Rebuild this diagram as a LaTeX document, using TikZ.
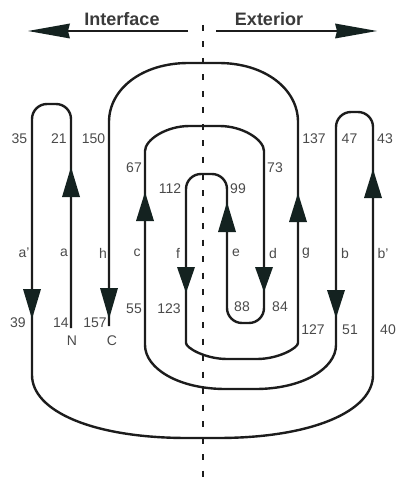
\documentclass[tikz,border=0pt]{standalone}
\usepackage{fontspec}
\setmainfont{Liberation Sans}
\begin{document}
\begin{tikzpicture}[x=1pt,y=-1pt,
  strand/.style={draw=linecol,line width=2.4pt,rounded corners=15pt},
  head/.style={fill=headcol},
  lbl/.style={text=lblcol,font=\fontsize{14}{14}\selectfont,inner sep=0pt},
  ttl/.style={text=ttlcol,font=\fontsize{18}{18}\selectfont\bfseries,inner sep=0pt},
  memb/.style={draw=linecol,line width=2.8pt,dash pattern=on 6pt off 10.5pt},
  bigarr/.style={draw=linecol,line width=2.1pt}]
\definecolor{linecol}{HTML}{1C1C1C}
\definecolor{headcol}{HTML}{142220}
\definecolor{lblcol}{HTML}{4A4A4A}
\definecolor{ttlcol}{HTML}{3A3A3A}
\useasboundingbox (0,0) rectangle (398,481);

% membrane
\coordinate (mtop) at (203,25);
\coordinate (mbot) at (203,479);
\draw[memb] (mtop) -- (mbot);

% direction arrows
\coordinate (ls) at (188,31);
\coordinate (le) at (60,31);
\coordinate (rs) at (216,31);
\coordinate (re) at (345,31);
\draw[bigarr] (ls) -- (le);
\draw[bigarr] (rs) -- (re);
\fill[head] (28,31) -- (70,23.5) -- (68,31) -- (70,38.5) -- cycle;
\fill[head] (377,31) -- (335,23.5) -- (337,31) -- (335,38.5) -- cycle;
\node[ttl] (interface) at (122,19) {Interface};
\node[ttl] (exterior) at (269,19) {Exterior};

% the chain
\coordinate (Nend) at (71,328);
\coordinate (Cend) at (109,326);
\draw[strand] (Nend) -- (71,104) -- (32,104) -- (32,360)
  .. controls (32,410.7) and (91.7,438) .. (202.5,438)
  .. controls (313.3,438) and (373,410.7) .. (373,360)
  -- (373,112) -- (336,112) -- (336,330)
  .. controls (336,368.4) and (302.6,389) .. (240.5,389)
  .. controls (178.4,389) and (145,368.4) .. (145,330)
  -- (145,166)
  .. controls (145,140) and (165.8,126) .. (204.5,126)
  .. controls (243.2,126) and (264,140) .. (264,166)
  -- (264,323) -- (227,323) -- (227,174) -- (186,174) -- (186,328)
  .. controls (186,348) and (205.6,359) .. (242,359)
  .. controls (278.4,359) and (298,348) .. (298,328)
  -- (298,137)
  .. controls (298,89) and (265,63) .. (203.5,63)
  .. controls (142,63) and (109,89) .. (109,137)
  -- (Cend);

% arrowheads
\newcommand\UpHead[3]{\fill[head] (#1,#2) -- (#1-9,#3) -- (#1+9,#3) -- cycle;}
\newcommand\DnHead[3]{\fill[head] (#1,#3) -- (#1-9,#2) -- (#1+9,#2) -- cycle;}
\UpHead{71}{167}{197}
\UpHead{145}{192}{221}
\UpHead{227}{202}{232}
\UpHead{298}{193}{222}
\UpHead{373}{169}{198}
\DnHead{186}{267}{293}
\DnHead{264}{267}{292}
\DnHead{32}{289}{319}
\DnHead{109}{288}{319}
\DnHead{336}{290}{318}

% residue numbers
\node[lbl] (n35) at (19.5,139) {35};
\node[lbl] (n21) at (59,139) {21};
\node[lbl] (n150) at (93.5,139) {150};
\node[lbl] (n67) at (134,168) {67};
\node[lbl] (n112) at (170,189) {112};
\node[lbl] (n99) at (238,189) {99};
\node[lbl] (n73) at (275,168) {73};
\node[lbl] (n137) at (314,139) {137};
\node[lbl] (n47) at (349.5,139) {47};
\node[lbl] (n43) at (385,139) {43};

\node[lbl] (n39) at (18,323) {39};
\node[lbl] (n14) at (61,323) {14};
\node[lbl] (n157) at (95,323) {157};
\node[lbl] (n55) at (134,309) {55};
\node[lbl] (n123) at (169,309) {123};
\node[lbl] (n88) at (242,307) {88};
\node[lbl] (n84) at (280,307) {84};
\node[lbl] (n127) at (313,330) {127};
\node[lbl] (n51) at (350,330) {51};
\node[lbl] (n40) at (388,330) {40};
\node[lbl] (tN) at (72,341) {N};
\node[lbl] (tC) at (112,341) {C};

% strand names
\node[lbl] (sap) at (24,253) {a'};
\node[lbl] (sa) at (64,253) {a};
\node[lbl] (sh) at (103,253) {h};
\node[lbl] (sc) at (137,253) {c};
\node[lbl] (sf) at (178,253) {f};
\node[lbl] (se) at (236,253) {e};
\node[lbl] (sd) at (273,253) {d};
\node[lbl] (sg) at (306,253) {g};
\node[lbl] (sb) at (345,253) {b};
\node[lbl] (sbp) at (383,253) {b'};
\end{tikzpicture}
\end{document}
